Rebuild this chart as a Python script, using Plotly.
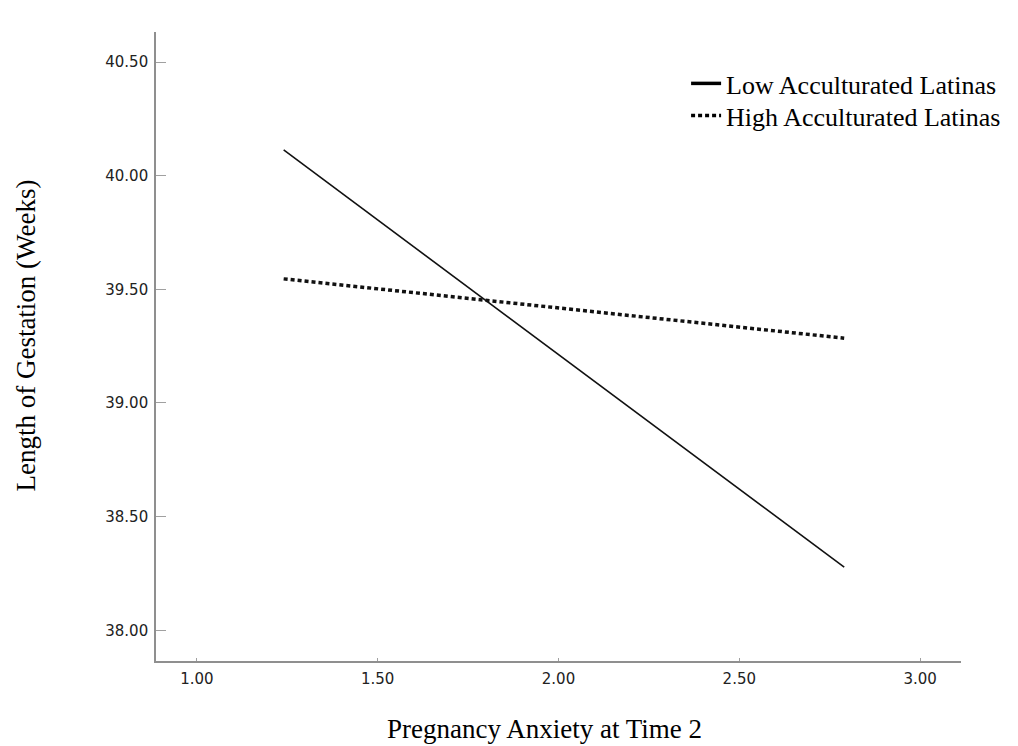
import plotly.graph_objects as go

# Data
anxiety = [1.24, 2.79]
low_accult = [40.113, 38.278]
high_accult = [39.546, 39.285]
series_names = ["Low Acculturated Latinas", "High Acculturated Latinas"]
y_ticks = [38.0, 38.5, 39.0, 39.5, 40.0, 40.5]
x_ticks = [1.0, 1.5, 2.0, 2.5, 3.0]

SERIF = "Liberation Serif, Times New Roman, serif"
SANS = "DejaVu Sans, Verdana, sans-serif"

fig = go.Figure()
# data lines (legend handled by legend-key traces below)
fig.add_trace(go.Scatter(x=anxiety, y=low_accult, mode="lines",
                         line=dict(color="#111111", width=1.6),
                         showlegend=False, hoverinfo="skip"))
fig.add_trace(go.Scatter(x=anxiety, y=high_accult, mode="lines",
                         line=dict(color="#111111", width=3.5, dash="4px,3px"),
                         showlegend=False, hoverinfo="skip"))
# legend keys (one legend each, so their spacing can match the reference)
fig.add_trace(go.Scatter(x=[None], y=[None], mode="lines", name=series_names[0],
                         line=dict(color="#000000", width=3.5), legend="legend"))
fig.add_trace(go.Scatter(x=[None], y=[None], mode="lines", name=series_names[1],
                         line=dict(color="#000000", width=3.5, dash="4px,3px"),
                         legend="legend2"))

axis_common = dict(showgrid=False, zeroline=False, showline=True,
                   linecolor="#8f8f8f", linewidth=1.6, mirror=False,
                   tickcolor="#a0a0a0", tickwidth=1.2,
                   tickfont=dict(family=SANS, size=15, color="#222222"))

legend_common = dict(xanchor="left", yanchor="top",
                     font=dict(family=SERIF, size=26, color="#000000"),
                     bgcolor="rgba(0,0,0,0)", itemwidth=30)

fig.update_layout(
    width=1018, height=746,
    paper_bgcolor="white", plot_bgcolor="white",
    margin=dict(l=148, r=65, t=24, b=93),
    xaxis=dict(range=[0.887, 3.113], tickvals=x_ticks, tickformat=".2f",
               ticks="inside", ticklen=3, ticklabelstandoff=3, **axis_common),
    yaxis=dict(range=[37.865, 40.632], tickvals=y_ticks, tickformat=".2f",
               ticks="inside", ticklen=10, ticklabelstandoff=3, **axis_common),
    legend=dict(x=0.6585, y=0.9555, **legend_common),
    legend2=dict(x=0.6585, y=0.9046, **legend_common),
    annotations=[
        dict(text="Pregnancy Anxiety at Time 2", xref="paper", yref="paper",
             x=0.482, y=-0.108, xanchor="center", yanchor="middle",
             showarrow=False, font=dict(family=SERIF, size=27, color="#000000")),
        dict(text="Length of Gestation (Weeks)", xref="paper", yref="paper",
             x=-0.161, y=0.518, xanchor="center", yanchor="middle", textangle=-90,
             showarrow=False, font=dict(family=SERIF, size=27, color="#000000")),
    ],
)

fig.write_html("out.html")
